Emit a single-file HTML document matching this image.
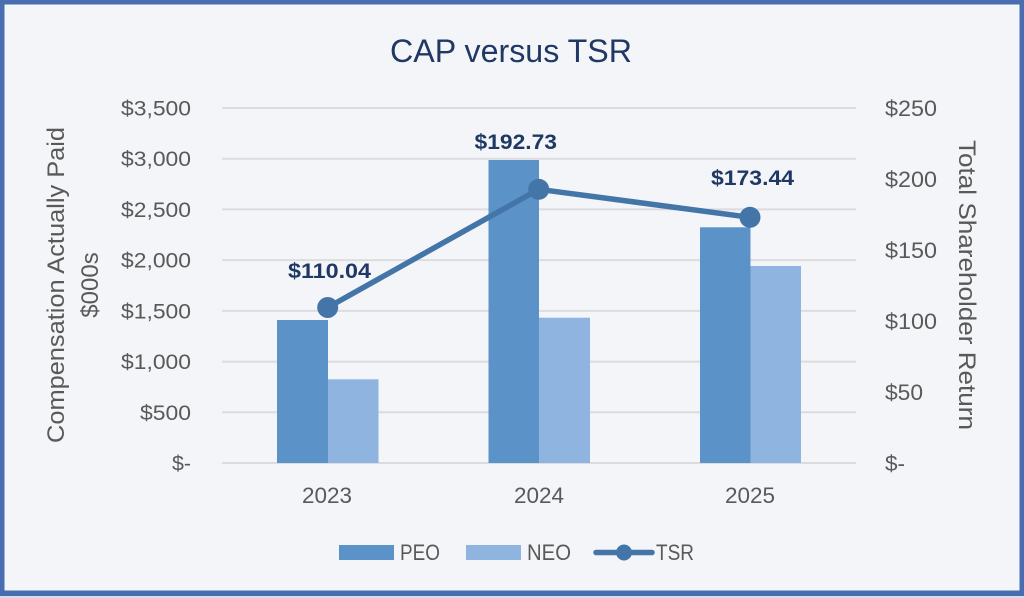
<!DOCTYPE html>
<html><head><meta charset="utf-8"><style>
html,body{margin:0;padding:0;background:#c9d5ea;}
svg{display:block;}
text{font-family:"Liberation Sans",sans-serif;}
</style></head><body>
<svg width="1024" height="598" viewBox="0 0 1024 598" xmlns="http://www.w3.org/2000/svg">
<rect x="0" y="0" width="1024" height="598" fill="#d6deee"/>
<rect x="0" y="0" width="1024" height="596" fill="#4a6db1"/>
<rect x="4.5" y="4.5" width="1015" height="586" fill="#f4f5f8"/>
<text x="511" y="62" font-size="32" fill="#1f3864" text-anchor="middle" textLength="242" lengthAdjust="spacingAndGlyphs">CAP versus TSR</text>
<g stroke="#dcdcdf" stroke-width="2">
<line x1="222" x2="856" y1="108" y2="108"/>
<line x1="222" x2="856" y1="158.7" y2="158.7"/>
<line x1="222" x2="856" y1="209.4" y2="209.4"/>
<line x1="222" x2="856" y1="260.1" y2="260.1"/>
<line x1="222" x2="856" y1="310.9" y2="310.9"/>
<line x1="222" x2="856" y1="361.6" y2="361.6"/>
<line x1="222" x2="856" y1="412.3" y2="412.3"/>
<line x1="222" x2="856" y1="463" y2="463"/>
</g>
<g fill="#5b93c9">
<rect x="277" y="320" width="51" height="143"/>
<rect x="488.5" y="160" width="50.5" height="303"/>
<rect x="700" y="227.3" width="50.5" height="235.7"/>
</g>
<g fill="#8fb4e0">
<rect x="328" y="379.3" width="50.5" height="83.7"/>
<rect x="539" y="317.7" width="51" height="145.3"/>
<rect x="750.5" y="266" width="50.5" height="197"/>
</g>
<polyline points="327.7,307.5 538.7,189.3 750,217.3" fill="none" stroke="#4475a8" stroke-width="5.5" stroke-linejoin="round"/>
<g fill="#4475a8">
<circle cx="327.7" cy="307.5" r="10.5"/>
<circle cx="538.7" cy="189.3" r="10.5"/>
<circle cx="750" cy="217.3" r="10.5"/>
</g>
<g font-size="21" font-weight="bold" fill="#1f3864">
<text x="288" y="278" textLength="83" lengthAdjust="spacingAndGlyphs">$110.04</text>
<text x="474.5" y="149" textLength="82.5" lengthAdjust="spacingAndGlyphs">$192.73</text>
<text x="711" y="185" textLength="83" lengthAdjust="spacingAndGlyphs">$173.44</text>
</g>
<g font-size="21" fill="#595959">
<text x="121" y="115.5" textLength="70" lengthAdjust="spacingAndGlyphs">$3,500</text>
<text x="121" y="166.2" textLength="70" lengthAdjust="spacingAndGlyphs">$3,000</text>
<text x="121" y="216.9" textLength="70" lengthAdjust="spacingAndGlyphs">$2,500</text>
<text x="121" y="267.6" textLength="70" lengthAdjust="spacingAndGlyphs">$2,000</text>
<text x="121" y="318.4" textLength="70" lengthAdjust="spacingAndGlyphs">$1,500</text>
<text x="121" y="369.1" textLength="70" lengthAdjust="spacingAndGlyphs">$1,000</text>
<text x="140" y="419.8" textLength="51" lengthAdjust="spacingAndGlyphs">$500</text>
<text x="172" y="470.5" textLength="19" lengthAdjust="spacingAndGlyphs">$-</text>
</g>
<g font-size="22" fill="#595959">
<text x="885" y="116" textLength="52" lengthAdjust="spacingAndGlyphs">$250</text>
<text x="885" y="187" textLength="52" lengthAdjust="spacingAndGlyphs">$200</text>
<text x="885" y="258" textLength="52" lengthAdjust="spacingAndGlyphs">$150</text>
<text x="885" y="329" textLength="52" lengthAdjust="spacingAndGlyphs">$100</text>
<text x="885" y="400" textLength="38" lengthAdjust="spacingAndGlyphs">$50</text>
<text x="885" y="471" textLength="20" lengthAdjust="spacingAndGlyphs">$-</text>
</g>
<g font-size="22" fill="#595959">
<text x="302" y="503" textLength="50" lengthAdjust="spacingAndGlyphs">2023</text>
<text x="514" y="503" textLength="50" lengthAdjust="spacingAndGlyphs">2024</text>
<text x="725" y="503" textLength="50" lengthAdjust="spacingAndGlyphs">2025</text>
</g>
<text transform="translate(64,285) rotate(-90)" font-size="24" fill="#595959" text-anchor="middle" textLength="316" lengthAdjust="spacingAndGlyphs">Compensation Actually Paid</text>
<text transform="translate(98,285) rotate(-90)" font-size="24" fill="#595959" text-anchor="middle">$000s</text>
<text transform="translate(959,285) rotate(90)" font-size="24" fill="#595959" text-anchor="middle" textLength="290" lengthAdjust="spacingAndGlyphs">Total Shareholder Return</text>
<rect x="339" y="545" width="55" height="15" fill="#5b93c9"/>
<text x="400" y="560" font-size="22" fill="#595959" textLength="40" lengthAdjust="spacingAndGlyphs">PEO</text>
<rect x="466" y="545" width="55" height="15" fill="#8fb4e0"/>
<text x="527" y="560" font-size="22" fill="#595959" textLength="44" lengthAdjust="spacingAndGlyphs">NEO</text>
<line x1="596" y1="552.5" x2="652" y2="552.5" stroke="#4475a8" stroke-width="5.5" stroke-linecap="round"/>
<circle cx="624" cy="552.5" r="8" fill="#4475a8"/>
<text x="656" y="560" font-size="22" fill="#595959" textLength="38" lengthAdjust="spacingAndGlyphs">TSR</text>
</svg>
</body></html>
